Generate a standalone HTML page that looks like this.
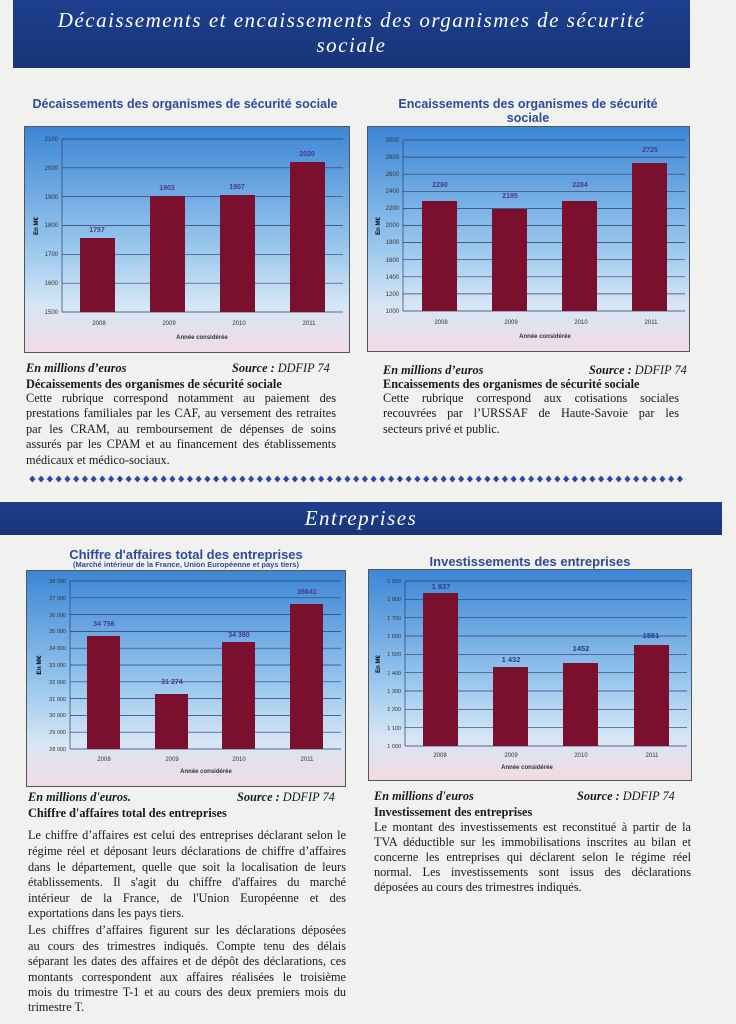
<!DOCTYPE html>
<html><head><meta charset="utf-8">
<style>
*{margin:0;padding:0;box-sizing:border-box}
body{width:736px;height:1024px;position:relative;background:#f1f1ef;overflow:hidden;font-family:"Liberation Serif",serif;color:#1a1a1a}
.ab{position:absolute}
.ban{background:linear-gradient(#1e3f8e,#173578);color:#fff;font-style:italic;text-align:center;letter-spacing:1.5px}
.ct{color:#2b4c9b;font-family:"Liberation Sans",sans-serif;font-weight:bold;text-align:center;font-size:12.5px}
.ln{position:absolute;font-size:12.3px;line-height:15px;white-space:nowrap}
.j{text-align:justify;text-align-last:justify;white-space:normal}
.it{font-style:italic;font-weight:bold}
.b{font-weight:bold}
svg text{font-family:"Liberation Sans",sans-serif}
</style></head><body>

<div class="ab ban" style="left:13px;top:0;width:677px;height:68px;font-size:21px;line-height:25px;padding-top:8px">Décaissements et encaissements des organismes de sécurité<br>sociale</div>

<div class="ab ct" style="left:20px;top:97px;width:330px">Décaissements des organismes de sécurité sociale</div>
<div class="ab ct" style="left:393px;top:97px;width:270px;line-height:14px">Encaissements des organismes de sécurité sociale</div>

<svg class="ab" style="left:24px;top:126px" width="326" height="227">
<defs><linearGradient id="g" x1="0" y1="0" x2="0" y2="1"><stop offset="0" stop-color="#3c86d6"/><stop offset="0.55" stop-color="#9cc9ee"/><stop offset="0.8" stop-color="#d7e6f4"/><stop offset="1" stop-color="#f1dbe4"/></linearGradient></defs>
<rect x="0.5" y="0.5" width="325" height="226" fill="url(#g)" stroke="#555"/>
<g stroke="#2c3d70" stroke-width="0.7"><line x1="38" x2="319" y1="13" y2="13"/><line x1="38" x2="319" y1="41.8" y2="41.8"/><line x1="38" x2="319" y1="70.7" y2="70.7"/><line x1="38" x2="319" y1="99.5" y2="99.5"/><line x1="38" x2="319" y1="128.3" y2="128.3"/><line x1="38" x2="319" y1="157.2" y2="157.2"/><line x1="38" x2="319" y1="186" y2="186"/><line x1="38" x2="38" y1="13" y2="186"/></g>
<g fill="#7a0f2e"><rect x="56" y="112" width="35" height="74"/><rect x="126" y="70" width="35" height="116"/><rect x="196" y="69" width="35" height="117"/><rect x="266" y="36" width="35" height="150"/></g>
<g font-size="6" fill="#333" text-anchor="end"><text x="34" y="15">2100</text><text x="34" y="44">2000</text><text x="34" y="73">1900</text><text x="34" y="101">1800</text><text x="34" y="130">1700</text><text x="34" y="159">1600</text><text x="34" y="188">1500</text></g>
<g font-size="7" fill="#4a3a8a" font-weight="bold" text-anchor="middle"><text x="73" y="106">1757</text><text x="143" y="64">1903</text><text x="213" y="63">1907</text><text x="283" y="30">2020</text></g>
<g font-size="6" fill="#333" text-anchor="middle"><text x="75" y="199">2008</text><text x="145" y="199">2009</text><text x="215" y="199">2010</text><text x="285" y="199">2011</text><text x="178" y="213" font-weight="bold">Année considérée</text></g>
<text x="14" y="100" font-size="6" font-weight="bold" transform="rotate(-90 14 100)" text-anchor="middle">En M€</text>
</svg>

<svg class="ab" style="left:367px;top:126px" width="323" height="226">
<rect x="0.5" y="0.5" width="322" height="225" fill="url(#g)" stroke="#555"/>
<g stroke="#2c3d70" stroke-width="0.7"><line x1="36" x2="318" y1="14" y2="14"/><line x1="36" x2="318" y1="31.1" y2="31.1"/><line x1="36" x2="318" y1="48.2" y2="48.2"/><line x1="36" x2="318" y1="65.3" y2="65.3"/><line x1="36" x2="318" y1="82.4" y2="82.4"/><line x1="36" x2="318" y1="99.5" y2="99.5"/><line x1="36" x2="318" y1="116.6" y2="116.6"/><line x1="36" x2="318" y1="133.7" y2="133.7"/><line x1="36" x2="318" y1="150.8" y2="150.8"/><line x1="36" x2="318" y1="167.9" y2="167.9"/><line x1="36" x2="318" y1="185" y2="185"/><line x1="36" x2="36" y1="14" y2="185"/></g>
<g fill="#7a0f2e"><rect x="55" y="75" width="35" height="110"/><rect x="125" y="83" width="35" height="102"/><rect x="195" y="75" width="35" height="110"/><rect x="265" y="37" width="35" height="148"/></g>
<g font-size="6" fill="#333" text-anchor="end"><text x="32" y="16">3000</text><text x="32" y="33">2800</text><text x="32" y="50">2600</text><text x="32" y="67">2400</text><text x="32" y="84">2200</text><text x="32" y="101">2000</text><text x="32" y="118">1800</text><text x="32" y="136">1600</text><text x="32" y="153">1400</text><text x="32" y="170">1200</text><text x="32" y="187">1000</text></g>
<g font-size="7" fill="#4a3a8a" font-weight="bold" text-anchor="middle"><text x="73" y="61">2290</text><text x="143" y="72">2195</text><text x="213" y="61">2284</text><text x="283" y="26">2725</text></g>
<g font-size="6" fill="#333" text-anchor="middle"><text x="74" y="198">2008</text><text x="144" y="198">2009</text><text x="214" y="198">2010</text><text x="284" y="198">2011</text><text x="178" y="212" font-weight="bold">Année considérée</text></g>
<text x="13" y="100" font-size="6" font-weight="bold" transform="rotate(-90 13 100)" text-anchor="middle">En M€</text>
</svg>

<div class="ln it" style="left:26px;top:361px">En millions d’euros</div>
<div class="ln" style="left:232px;top:361px"><b><i>Source :</i></b> <i>DDFIP 74</i></div>
<div class="ln b" style="left:26px;top:377px">Décaissements des organismes de sécurité sociale</div>
<div class="ln j" style="left:26px;top:391px;width:310px">Cette rubrique correspond notamment au paiement des</div>
<div class="ln j" style="left:26px;top:406px;width:310px">prestations familiales par les CAF, au versement des retraites</div>
<div class="ln j" style="left:26px;top:422px;width:310px">par les CRAM, au remboursement de dépenses de soins</div>
<div class="ln j" style="left:26px;top:437px;width:310px">assurés par les CPAM et au financement des établissements</div>
<div class="ln" style="left:26px;top:453px">médicaux et médico-sociaux.</div>

<div class="ln it" style="left:383px;top:363px">En millions d’euros</div>
<div class="ln" style="left:589px;top:363px"><b><i>Source :</i></b> <i>DDFIP 74</i></div>
<div class="ln b" style="left:383px;top:377px">Encaissements des organismes de sécurité sociale</div>
<div class="ln j" style="left:383px;top:391px;width:296px">Cette rubrique correspond aux cotisations sociales</div>
<div class="ln j" style="left:383px;top:406px;width:296px">recouvrées par l’URSSAF de Haute-Savoie par les</div>
<div class="ln" style="left:383px;top:422px">secteurs privé et public.</div>

<svg class="ab" style="left:28px;top:474px" width="658" height="10">
<defs><pattern id="d" width="8.75" height="10" patternUnits="userSpaceOnUse"><path d="M4.4 1.5 L7.5 5 L4.4 8.5 L1.3 5Z" fill="#2a4aa0"/></pattern></defs>
<rect width="658" height="10" fill="url(#d)"/></svg>

<div class="ab ban" style="left:0;top:502px;width:722px;height:33px;font-size:21px;line-height:33px">Entreprises</div>

<div class="ab ct" style="left:26px;top:548px;width:320px;font-size:13px;line-height:13px">Chiffre d'affaires total des entreprises</div>
<div class="ab ct" style="left:26px;top:560px;width:320px;font-size:7.5px;line-height:9px">(Marché intérieur de la France, Union Européenne et pays tiers)</div>
<div class="ab ct" style="left:368px;top:554px;width:324px;font-size:13px">Investissements des entreprises</div>

<svg class="ab" style="left:26px;top:570px" width="320" height="217">
<rect x="0.5" y="0.5" width="319" height="216" fill="url(#g)" stroke="#555"/>
<g stroke="#2c3d70" stroke-width="0.7"><line x1="44" x2="315" y1="11" y2="11"/><line x1="44" x2="315" y1="27.8" y2="27.8"/><line x1="44" x2="315" y1="44.6" y2="44.6"/><line x1="44" x2="315" y1="61.4" y2="61.4"/><line x1="44" x2="315" y1="78.2" y2="78.2"/><line x1="44" x2="315" y1="95" y2="95"/><line x1="44" x2="315" y1="111.8" y2="111.8"/><line x1="44" x2="315" y1="128.6" y2="128.6"/><line x1="44" x2="315" y1="145.4" y2="145.4"/><line x1="44" x2="315" y1="162.2" y2="162.2"/><line x1="44" x2="315" y1="179" y2="179"/><line x1="44" x2="44" y1="11" y2="179"/></g>
<g fill="#7a0f2e"><rect x="61" y="66" width="33" height="113"/><rect x="129" y="124" width="33" height="55"/><rect x="196" y="72" width="33" height="107"/><rect x="264" y="34" width="33" height="145"/></g>
<g font-size="5.5" fill="#333" text-anchor="end"><text x="40" y="13">38 000</text><text x="40" y="30">37 000</text><text x="40" y="47">36 000</text><text x="40" y="63">35 000</text><text x="40" y="80">34 000</text><text x="40" y="97">33 000</text><text x="40" y="114">32 000</text><text x="40" y="131">31 000</text><text x="40" y="147">30 000</text><text x="40" y="164">29 000</text><text x="40" y="181">28 000</text></g>
<g font-size="7" fill="#4a3a8a" font-weight="bold" text-anchor="middle"><text x="78" y="56">34 756</text><text x="146" y="114">31 274</text><text x="213" y="67">34 380</text><text x="281" y="24">36641</text></g>
<g font-size="6" fill="#333" text-anchor="middle"><text x="78" y="191">2008</text><text x="146" y="191">2009</text><text x="213" y="191">2010</text><text x="281" y="191">2011</text><text x="180" y="203" font-weight="bold">Année considérée</text></g>
<text x="15" y="95" font-size="6.5" font-weight="bold" transform="rotate(-90 15 95)" text-anchor="middle">En M€</text>
</svg>

<svg class="ab" style="left:368px;top:569px" width="324" height="212">
<rect x="0.5" y="0.5" width="323" height="211" fill="url(#g)" stroke="#555"/>
<g stroke="#2c3d70" stroke-width="0.7"><line x1="37" x2="319" y1="12" y2="12"/><line x1="37" x2="319" y1="30.3" y2="30.3"/><line x1="37" x2="319" y1="48.7" y2="48.7"/><line x1="37" x2="319" y1="67" y2="67"/><line x1="37" x2="319" y1="85.3" y2="85.3"/><line x1="37" x2="319" y1="103.7" y2="103.7"/><line x1="37" x2="319" y1="122" y2="122"/><line x1="37" x2="319" y1="140.3" y2="140.3"/><line x1="37" x2="319" y1="158.7" y2="158.7"/><line x1="37" x2="319" y1="177" y2="177"/><line x1="37" x2="37" y1="12" y2="177"/></g>
<g fill="#7a0f2e"><rect x="55" y="24" width="35" height="153"/><rect x="125" y="98" width="35" height="79"/><rect x="195" y="94" width="35" height="83"/><rect x="266" y="76" width="35" height="101"/></g>
<g font-size="5.5" fill="#333" text-anchor="end"><text x="33" y="14">1 900</text><text x="33" y="32">1 800</text><text x="33" y="51">1 700</text><text x="33" y="69">1 600</text><text x="33" y="87">1 500</text><text x="33" y="106">1 400</text><text x="33" y="124">1 300</text><text x="33" y="142">1 200</text><text x="33" y="161">1 100</text><text x="33" y="179">1 000</text></g>
<g font-size="7.5" fill="#2a3a8a" font-weight="bold" text-anchor="middle"><text x="73" y="20">1 837</text><text x="143" y="93">1 432</text><text x="213" y="82">1452</text><text x="283" y="69">1551</text></g>
<g font-size="6" fill="#333" text-anchor="middle"><text x="72" y="188">2008</text><text x="143" y="188">2009</text><text x="213" y="188">2010</text><text x="284" y="188">2011</text><text x="159" y="200" font-weight="bold">Année considérée</text></g>
<text x="12" y="95" font-size="6" font-weight="bold" transform="rotate(-90 12 95)" text-anchor="middle">En M€</text>
</svg>

<div class="ln it" style="left:28px;top:790px">En millions d'euros.</div>
<div class="ln" style="left:237px;top:790px"><b><i>Source :</i></b> <i>DDFIP 74</i></div>
<div class="ln b" style="left:28px;top:806px">Chiffre d'affaires total des entreprises</div>
<div class="ln j" style="left:28px;top:828px;width:318px">Le chiffre d’affaires est celui des entreprises déclarant selon le</div>
<div class="ln j" style="left:28px;top:844px;width:318px">régime réel et déposant leurs déclarations de chiffre d’affaires</div>
<div class="ln j" style="left:28px;top:860px;width:318px">dans le département, quelle que soit la localisation de leurs</div>
<div class="ln j" style="left:28px;top:875px;width:318px">établissements. Il s'agit du chiffre d'affaires du marché</div>
<div class="ln j" style="left:28px;top:891px;width:318px">intérieur de la France, de l'Union Européenne et des</div>
<div class="ln" style="left:28px;top:906px">exportations dans les pays tiers.</div>
<div class="ln j" style="left:28px;top:923px;width:318px">Les chiffres d’affaires figurent sur les déclarations déposées</div>
<div class="ln j" style="left:28px;top:939px;width:318px">au cours des trimestres indiqués. Compte tenu des délais</div>
<div class="ln j" style="left:28px;top:954px;width:318px">séparant les dates des affaires et de dépôt des déclarations, ces</div>
<div class="ln j" style="left:28px;top:970px;width:318px">montants correspondent aux affaires réalisées le troisième</div>
<div class="ln j" style="left:28px;top:985px;width:318px">mois du trimestre T-1 et au cours des deux premiers mois du</div>
<div class="ln" style="left:28px;top:1000px">trimestre T.</div>

<div class="ln it" style="left:374px;top:789px">En millions d'euros</div>
<div class="ln" style="left:577px;top:789px"><b><i>Source :</i></b> <i>DDFIP 74</i></div>
<div class="ln b" style="left:374px;top:805px">Investissement des entreprises</div>
<div class="ln j" style="left:374px;top:820px;width:317px">Le montant des investissements est reconstitué à partir de la</div>
<div class="ln j" style="left:374px;top:835px;width:317px">TVA déductible sur les immobilisations inscrites au bilan et</div>
<div class="ln j" style="left:374px;top:850px;width:317px">concerne les entreprises qui déclarent selon le régime réel</div>
<div class="ln j" style="left:374px;top:865px;width:317px">normal. Les investissements sont issus des déclarations</div>
<div class="ln" style="left:374px;top:880px">déposées au cours des trimestres indiqués.</div>

</body></html>
